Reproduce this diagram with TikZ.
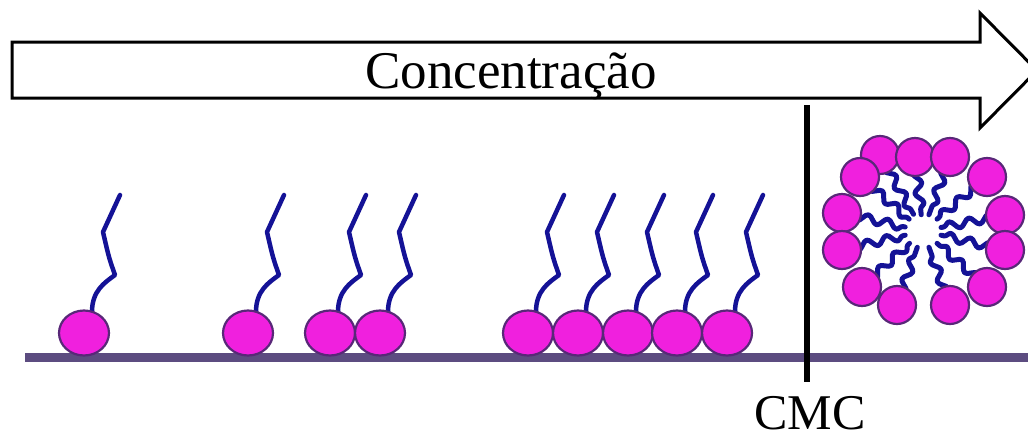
\documentclass[tikz,border=0pt]{standalone}
\usepackage{fontspec}
\setmainfont{Liberation Serif}
\usetikzlibrary{shapes.geometric,calc,decorations.pathmorphing,backgrounds}

\definecolor{headpink}{RGB}{240,32,222}
\definecolor{headline}{RGB}{88,40,120}
\definecolor{tailblue}{RGB}{20,18,150}
\definecolor{surface}{RGB}{92,76,128}

\tikzset{
  head/.style={ellipse,draw=headline,fill=headpink,line width=2.2pt,minimum width=50pt,minimum height=45pt,inner sep=0pt},
  mhead/.style={circle,draw=headline,fill=headpink,line width=2.2pt,minimum size=38pt,inner sep=0pt},
  tail/.style={draw=tailblue,line width=4.5pt,line join=round,line cap=round},
  mtail/.style={tail,line width=5pt,decorate,decoration={snake,amplitude=4pt,segment length=20pt}}
}

\begin{document}
\begin{tikzpicture}[x=1pt,y=-1pt]
\useasboundingbox (0,0) rectangle (1028,440);

% concentration arrow
\draw[line width=3pt,line join=miter] (12,42) -- (980,42) -- (980,13) -- (1037,70.5) -- (980,128) -- (980,98) -- (12,98) -- cycle;
\node[anchor=base,font=\fontsize{53}{60}\selectfont] (conc) at (511,88) {Concentração};

% surface
\draw[surface,line width=9pt] (25,357) -- (1028,357);

% adsorbed surfactants
\foreach \n/\x in {a/84, b/248, c/330, d/380, e/528, f/578, g/628, h/677, i/727}
  \node[head] (\n) at (\x,333) {};
\begin{scope}[on background layer]
\foreach \n in {a,...,i}
  \draw[tail] ($(\n)+(8,-21)$) .. controls ($(\n)+(8,-42)$) and ($(\n)+(20,-50)$) .. ($(\n)+(31,-58)$)
    .. controls ($(\n)+(25,-75)$) .. ($(\n)+(19,-101)$) -- ($(\n)+(36,-138)$);
\end{scope}

% CMC mark
\coordinate (cmctop) at (807,105);
\coordinate (cmcfoot) at (807,382);
\draw[line width=6pt] (cmctop) -- (cmcfoot);
\node[anchor=base,inner sep=0pt,font=\fontsize{50}{60}\selectfont] (cmc) at (810,429) {CMC};

% micelle
\coordinate (mc) at (923,231);
\foreach \x/\y [count=\i] in {880/155,915/157,950/157,860/177,987/177,842/213,1005/215,842/250,1005/250,862/287,987/287,897/305,950/305}
  \node[mhead] (m\i) at (\x,\y) {};
\begin{scope}[on background layer]
\foreach \i in {1,...,13}
  \draw[mtail] (m\i.center) -- ($(m\i.center)!0.78!(mc)$);
\end{scope}

\end{tikzpicture}
\end{document}
